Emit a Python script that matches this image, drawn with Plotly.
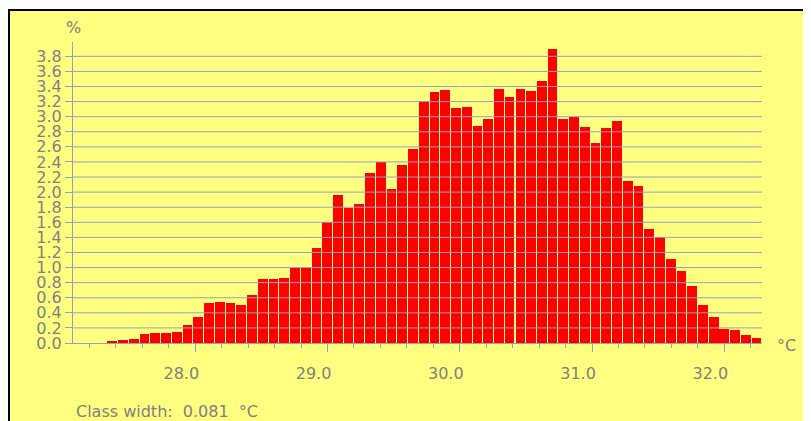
import plotly.graph_objects as go

bin_start = [27.332, 27.413, 27.494, 27.576, 27.657, 27.738, 27.819, 27.900, 27.982, 28.063,
             28.144, 28.225, 28.306, 28.388, 28.469, 28.550, 28.631, 28.712, 28.794, 28.875,
             28.956, 29.037, 29.118, 29.200, 29.281, 29.362, 29.443, 29.524, 29.606, 29.687,
             29.768, 29.849, 29.930, 30.012, 30.093, 30.174, 30.255, 30.336, 30.418, 30.499,
             30.580, 30.661, 30.742, 30.824, 30.905, 30.986, 31.067, 31.148, 31.230, 31.311,
             31.392, 31.473, 31.554, 31.636, 31.717, 31.798, 31.879, 31.960, 32.042, 32.123,
             32.204]
percent = [0.02, 0.04, 0.05, 0.12, 0.13, 0.13, 0.14, 0.24, 0.34, 0.53,
           0.55, 0.53, 0.51, 0.63, 0.85, 0.85, 0.86, 1.00, 1.00, 1.26,
           1.60, 1.96, 1.79, 1.84, 2.25, 2.40, 2.04, 2.36, 2.57, 3.21,
           3.33, 3.36, 3.12, 3.13, 2.88, 2.97, 3.37, 3.26, 3.37, 3.34,
           3.47, 3.90, 2.97, 3.00, 2.86, 2.65, 2.85, 2.94, 2.15, 2.08,
           1.51, 1.40, 1.11, 0.95, 0.75, 0.51, 0.35, 0.19, 0.17, 0.10,
           0.06]
class_width = 0.0812
x_ticks = [28, 29, 30, 31, 32]
x_tick_labels = ['28.0', '29.0', '30.0', '31.0', '32.0']
y_ticks = [0.2, 0.4, 0.6, 0.8, 1.0, 1.2, 1.4, 1.6, 1.8, 2.0,
           2.2, 2.4, 2.6, 2.8, 3.0, 3.2, 3.4, 3.6, 3.8]

yellow = '#FFFF80'
axis_col = '#8EA2C2'
text_col = '#808080'
font = dict(family='DejaVu Sans', size=16, color=text_col)

fig = go.Figure()
fig.add_trace(go.Bar(x=bin_start, y=percent, width=class_width - 0.0075, offset=0.0038,
                     marker=dict(color='#FF0000', line=dict(width=0)), hoverinfo='x+y'))

# grid drawn over the bars like in the original
for v in y_ticks:
    fig.add_hline(y=v, line_color=axis_col, line_width=1, layer='above')

fig.update_xaxes(range=[27.0752, 32.2854], showgrid=False, zeroline=False,
                 showline=True, linecolor=axis_col, linewidth=1,
                 ticks='outside', ticklen=8, tickcolor=axis_col, tickwidth=1,
                 tickvals=x_ticks, ticktext=x_tick_labels, tickfont=font,
                 ticklabelshift=-14, ticklabelstandoff=8,
                 minor=dict(dtick=0.2, tick0=28, ticks='outside', ticklen=4,
                            tickcolor=axis_col, showgrid=False))
fig.update_yaxes(range=[0, 3.99], showgrid=False, zeroline=False,
                 showline=True, linecolor=axis_col, linewidth=1,
                 ticks='outside', ticklen=7, tickcolor=axis_col,
                 dtick=0.2, tick0=0, tickformat='.1f', tickfont=font)

# page body has an 8px margin, so the frame sits at the figure's left edge
fig.add_shape(type='rect', xref='paper', yref='paper', x0=-0.0929, x1=1.2, y0=-0.5, y1=1.1063,
              fillcolor=yellow, line=dict(color='black', width=2), layer='below')

fig.add_annotation(text='%', xref='paper', yref='paper', x=0, y=1.047,
                   xanchor='center', yanchor='middle', showarrow=False, font=font)
fig.add_annotation(text='°C', xref='paper', yref='paper', x=1.019, y=-0.008,
                   xanchor='left', yanchor='middle', showarrow=False, font=font)
fig.add_annotation(text='Class width:&nbsp;&nbsp;0.081&nbsp;&nbsp;°C', xref='paper', yref='paper',
                   x=0.0015, y=-0.226, xanchor='left', yanchor='middle', showarrow=False, font=font)

fig.update_layout(width=803, height=413, autosize=False,
                  margin=dict(l=65, r=49, t=34, b=78),
                  paper_bgcolor='white', plot_bgcolor=yellow,
                  showlegend=False, bargap=0)

fig.write_html("out.html")
